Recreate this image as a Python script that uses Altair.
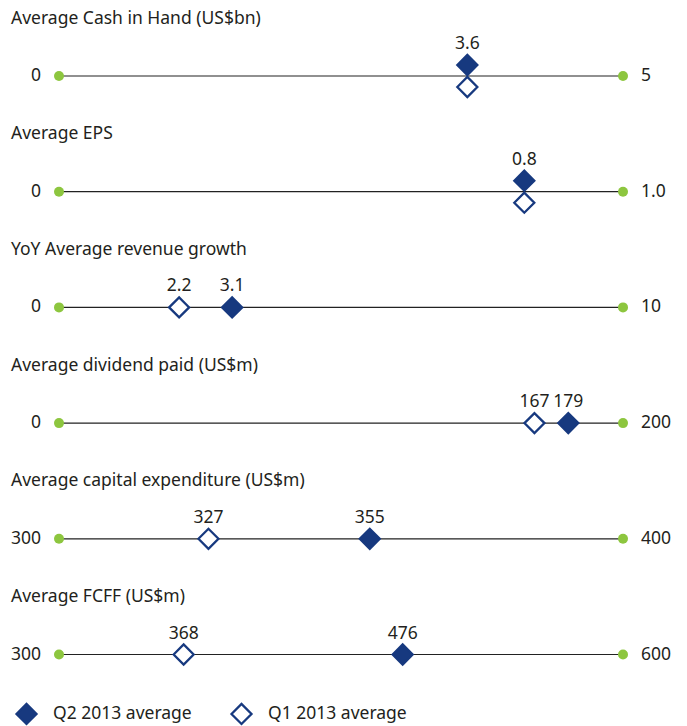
import altair as alt
import pandas as pd

titles = [
    "Average Cash in Hand (US$bn)",
    "Average EPS",
    "YoY Average revenue growth",
    "Average dividend paid (US$m)",
    "Average capital expenditure (US$m)",
    "Average FCFF (US$m)",
]
axis_min = [0, 0, 0, 0, 300, 300]
axis_max = [5, 1.0, 10, 200, 400, 600]
min_labels = ["0", "0", "0", "0", "300", "300"]
max_labels = ["5", "1.0", "10", "200", "400", "600"]
q2_values = [3.62, 0.825, 3.07, 180.6, 355.1, 482.8]
q1_values = [3.62, 0.825, 2.13, 168.6, 326.5, 366.3]
q2_labels = ["3.6", "0.8", "3.1", "179", "355", "476"]
q1_labels = ["", "", "2.2", "167", "327", "368"]
series = ["Q2 2013 average", "Q1 2013 average"]

W = 564
H = 60
LINE_Y = 42
BLUE = "#17397f"
GREEN = "#8dc63f"
TEXT = "#231f20"
FONT = "Noto Sans"
FS = 17.5

legend = alt.Legend(
    orient="none", legendX=-44, legendY=668, direction="horizontal", title=None,
    symbolType="diamond", symbolSize=400, symbolStrokeColor=BLUE, symbolStrokeWidth=2.3,
    symbolOpacity=1, labelFontSize=FS, labelFont=FONT, labelColor=TEXT,
    labelOffset=15, columnPadding=34,
)
fill_scale = alt.Scale(domain=series, range=[BLUE, "white"])

panels = []
for i, t in enumerate(titles):
    lo, hi = axis_min[i], axis_max[i]
    xs = alt.Scale(domain=[lo, hi], nice=False, zero=False)
    line_df = pd.DataFrame({"lo": [lo], "hi": [hi]})
    ends_df = pd.DataFrame({"v": [lo, hi], "lab": [min_labels[i], max_labels[i]]})
    pts_df = pd.DataFrame({
        "v": [q2_values[i], q1_values[i]],
        "lab": [q2_labels[i], q1_labels[i]],
        "series": series,
    })
    sep = abs(q2_values[i] - q1_values[i]) / (hi - lo) * W
    stacked = sep < 24
    off2 = -11 if stacked else 0
    off1 = 11 if stacked else 0
    y0 = alt.value(LINE_Y)

    rule = alt.Chart(line_df).mark_rule(color="#222222", strokeWidth=1.2).encode(
        x=alt.X("lo:Q", scale=xs, axis=None), x2="hi:Q", y=y0
    )
    dots = alt.Chart(ends_df).mark_circle(size=100, color=GREEN, opacity=1).encode(
        x=alt.X("v:Q", scale=xs, axis=None), y=y0
    )
    left_lab = alt.Chart(ends_df.iloc[[0]]).mark_text(
        align="right", baseline="middle", dx=-18, fontSize=FS, font=FONT, color=TEXT
    ).encode(x=alt.X("v:Q", scale=xs, axis=None), y=y0, text="lab:N")
    right_lab = alt.Chart(ends_df.iloc[[1]]).mark_text(
        align="left", baseline="middle", dx=18, fontSize=FS, font=FONT, color=TEXT
    ).encode(x=alt.X("v:Q", scale=xs, axis=None), y=y0, text="lab:N")

    layers = [rule, dots, left_lab, right_lab]
    for s, off in ((series[0], off2), (series[1], off1)):
        sub = pts_df[pts_df["series"] == s]
        layers.append(
            alt.Chart(sub).mark_point(
                shape="diamond", filled=True, size=400, stroke=BLUE, strokeWidth=2.3,
                opacity=1, yOffset=off
            ).encode(
                x=alt.X("v:Q", scale=xs, axis=None), y=y0,
                fill=alt.Fill("series:N", scale=fill_scale, legend=legend),
            )
        )
        layers.append(
            alt.Chart(sub).mark_text(
                align="center", baseline="middle", fontSize=FS, font=FONT, color=TEXT,
                yOffset=off - 21
            ).encode(x=alt.X("v:Q", scale=xs, axis=None), y=y0, text="lab:N")
        )

    panel = alt.layer(*layers).properties(
        width=W, height=H,
        title=alt.TitleParams(
            t, anchor="start", frame="group", dx=-48, offset=7, fontSize=FS,
            font=FONT, fontWeight="normal", color=TEXT,
        ),
    )
    panels.append(panel)

chart = alt.vconcat(*panels, spacing=55.7, bounds="flush").properties(
    padding={"left": 2, "top": 1, "right": 5, "bottom": 5}
).configure_view(stroke=None)

chart.save("out.html", embed_options={"renderer": "svg", "actions": False})
